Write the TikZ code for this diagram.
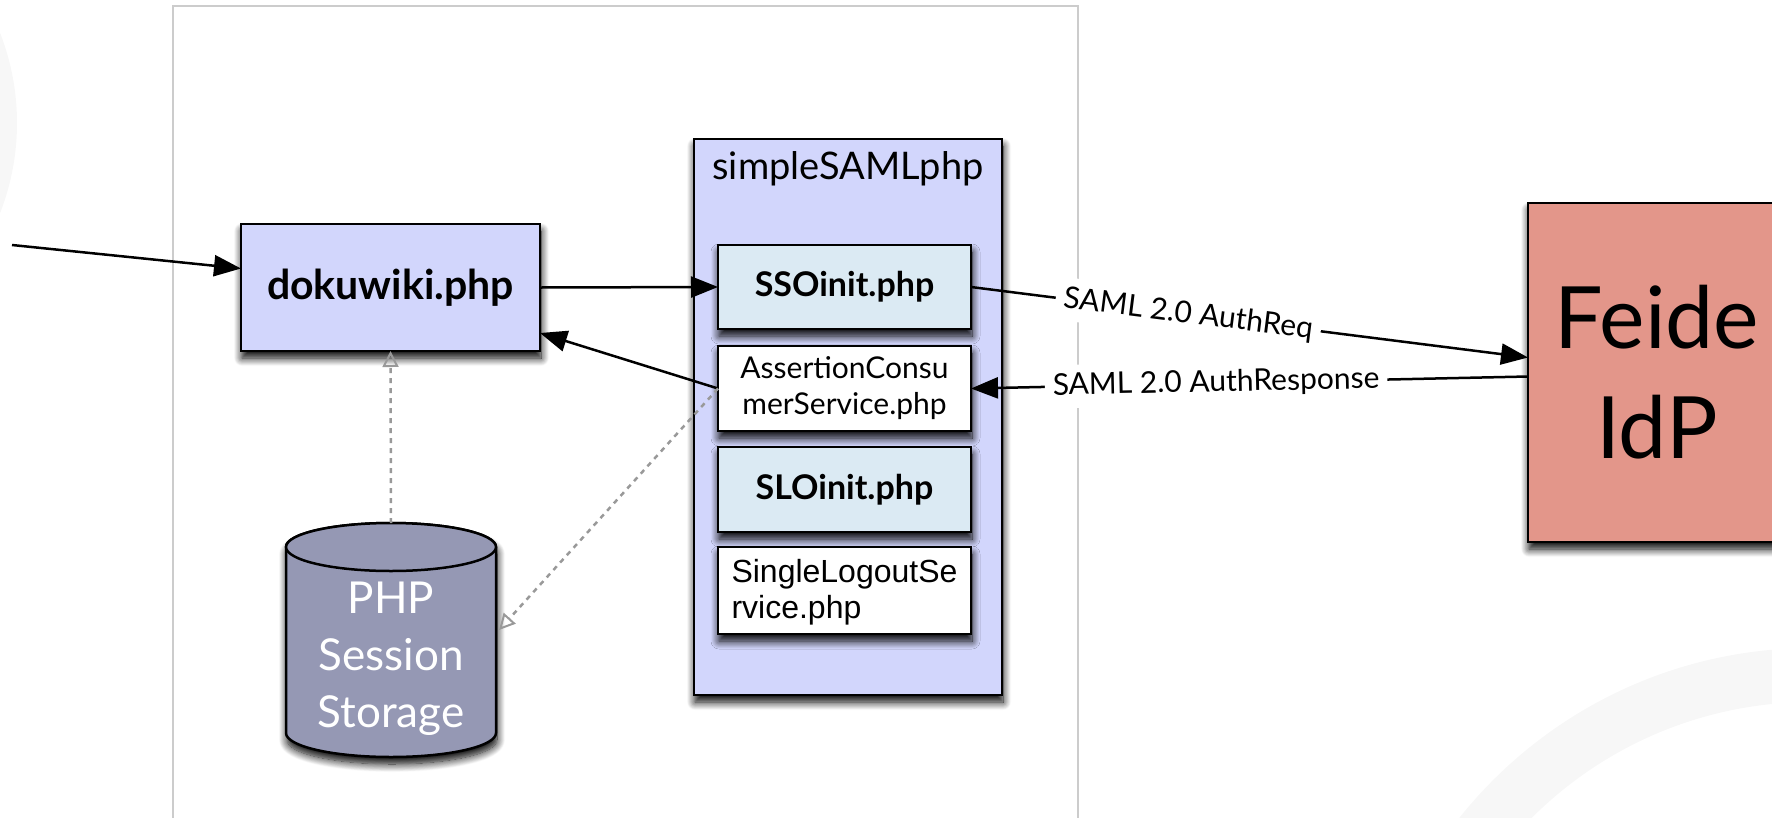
\documentclass[tikz,border=0pt]{standalone}
\usepackage{fontspec}
\setmainfont{Lato}
\newfontfamily\arialf{Liberation Sans}
\usetikzlibrary{arrows.meta,shadows.blur,calc}
\definecolor{lav}{HTML}{D2D6FC}
\definecolor{lblue}{HTML}{DBEAF3}
\definecolor{feidec}{HTML}{E3968A}
\definecolor{cylc}{HTML}{9598B4}
\definecolor{ringc}{HTML}{F7F7F7}
\definecolor{frame}{HTML}{CCCCCC}
\definecolor{dotc}{HTML}{999999}
\tikzset{
  shad/.style={blur shadow={shadow xshift=1pt, shadow yshift=-7pt, shadow blur radius=8pt, shadow blur steps=12, shadow opacity=100}},
  box/.style={draw=black, line width=2.5pt, inner sep=0pt, outer sep=0pt, shad},
  arr/.style={draw=black, line width=2.5pt, -{Triangle[length=27pt,width=21pt,fill=black]}},
  dotarr/.style={draw=dotc, line width=2.5pt, dash pattern=on 5pt off 5pt,
    -{Triangle[open, length=16pt, width=16pt, line width=2pt]}},
  lbl/.style={fill=white, inner sep=8pt, font=\fontsize{30}{36}\selectfont, sloped},
}
\begin{document}
\begin{tikzpicture}[x=1pt,y=-1pt]
\useasboundingbox (0,0) rectangle (1772,817);
\clip (0,0) rectangle (1772,817);
% background decoration
\fill[ringc] (-230,123) circle[radius=247];
\fill[ringc, even odd rule] (1812,1099) circle[radius=451] (1812,1099) circle[radius=397];
% frame
\draw[frame, line width=2.2pt] (173,6) rectangle (1078,850);
% nodes
\node[box, fill=lav, minimum width=299pt, minimum height=127pt,
      font=\bfseries\fontsize{41}{48}\selectfont] (doku) at (390.5,287.5) {dokuwiki.php};
\node[box, fill=lav, minimum width=308pt, minimum height=556pt] (ssp) at (848,417) {};
\node[anchor=base, font=\fontsize{38}{44}\selectfont] (ssptitle) at (848,179) {simpleSAMLphp};
\node[box, fill=lblue, minimum width=253pt, minimum height=84pt,
      font=\bfseries\fontsize{34}{40}\selectfont] (sso) at (844.5,287) {SSOinit.php};
\node[box, fill=white, minimum width=253pt, minimum height=85pt, align=center,
      font=\fontsize{30}{36}\selectfont] (acs) at (844.5,388.5) {AssertionConsu\\merService.php};
\node[box, fill=lblue, minimum width=253pt, minimum height=85pt,
      font=\bfseries\fontsize{34}{40}\selectfont] (slo) at (844.5,489.5) {SLOinit.php};
\node[box, fill=white, minimum width=253pt, minimum height=87pt] (sls) at (844.5,590.5) {};
\node[align=left, font=\arialf\fontsize{32}{36}\selectfont] (slstext) at (844.5,592) {SingleLogoutSe\\rvice.php};
\node[box, fill=feidec, minimum width=258pt, minimum height=339pt, align=center,
      font=\fontsize{86}{110}\selectfont] (feide) at (1657,372.5) {Feide\\IdP};
% cylinder
\path[fill=cylc, draw=black, line width=2.5pt, shad]
  (286,547) -- (286,733) arc[start angle=180, end angle=0, x radius=105, y radius=24]
  -- (496,547) arc[start angle=0, end angle=-180, x radius=105, y radius=24] -- cycle;
\draw[fill=cylc, line width=2.5pt] (391,547) ellipse[x radius=105, y radius=24];
\node[white, align=center, font=\fontsize{44}{57}\selectfont] (cyltext) at (391,659) {PHP\\Session\\Storage};
\coordinate (cyltop) at (391,523);
\coordinate (cylside) at (499,630);
\coordinate (start) at (12,245);
% connectors
\draw[arr] (start) -- ($(doku.west)+(0,-19)$);
\draw[arr] (doku.east) -- (sso.west);
\draw[arr] (acs.west) -- ($(doku.south east)+(0,-18)$);
\draw[dotarr] (cyltop) -- (doku.south);
\draw[dotarr] (acs.west) -- (cylside);
\draw[arr] (sso.east) -- node[lbl, pos=0.39] {SAML 2.0 AuthReq} ($(feide.west)+(0,-15)$);
\draw[arr] ($(feide.west)+(0,4)$) -- node[lbl, pos=0.56] {SAML 2.0 AuthResponse} (acs.east);
\end{tikzpicture}
\end{document}
